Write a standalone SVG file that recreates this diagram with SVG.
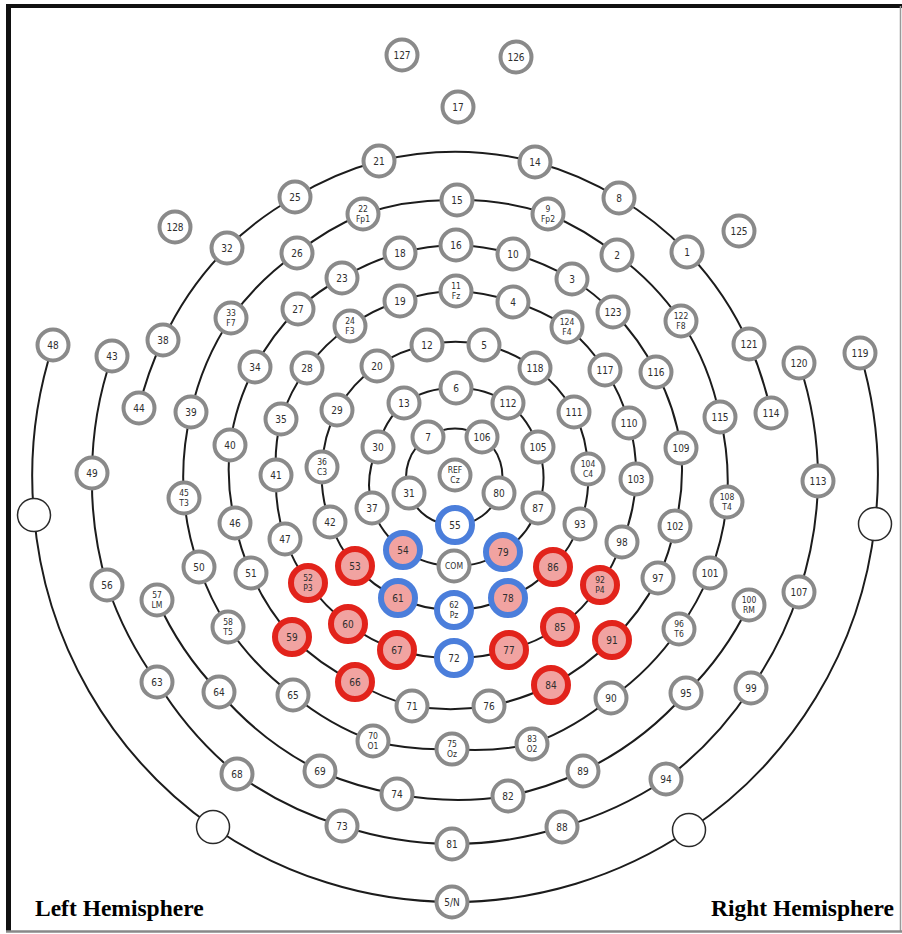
<svg xmlns="http://www.w3.org/2000/svg" width="902" height="934" viewBox="0 0 902 934">
<style>
.ring{fill:none;stroke:#1c1c1c;stroke-width:2}
.n circle{fill:#fff;stroke:#8a8a8a;stroke-width:4}
.r circle{fill:#f1a3a1;stroke:#e2231b;stroke-width:6}
.b circle{fill:#fff;stroke:#4b7edb;stroke-width:6}
.bp circle{fill:#f1a3a1;stroke:#4b7edb;stroke-width:6}
.w circle{fill:#fff;stroke:#2a2a2a;stroke-width:1.5}
text{font-family:"DejaVu Sans Condensed","Liberation Sans Narrow","Liberation Sans",sans-serif;font-size:10px;fill:#2e2e2e;text-anchor:middle}
text.s{font-size:8.5px}
text.h{font-family:"Liberation Serif","Times New Roman",serif;font-weight:bold;font-size:23.5px;fill:#000;text-anchor:start}
text.he{text-anchor:end}
</style>

<!-- frame -->
<g id="frame">
<line x1="8.5" y1="4" x2="8.5" y2="932" stroke="#111" stroke-width="5"/>
<line x1="6" y1="6" x2="902" y2="6" stroke="#111" stroke-width="4"/>
<line x1="900.5" y1="6" x2="900.5" y2="932" stroke="#999" stroke-width="1.5"/>
<line x1="6" y1="931.5" x2="902" y2="931.5" stroke="#888" stroke-width="2.5"/>
</g>

<!-- concentric electrode chains -->
<g id="connectors">
<path class="ring" d="M428,437 A47,47 0 0 1 482,437 A47,47 0 0 1 499,493 A47,47 0 0 1 455,525 A47,47 0 0 1 409,493 A47,47 0 0 1 428,437 Z"/>
<path class="ring" d="M456,388 A89,89 0 0 1 508,403 A89,89 0 0 1 538,447 A89,89 0 0 1 538,508 A89,89 0 0 1 503,552 A89,89 0 0 1 454,566 A89,89 0 0 1 403,550 A89,89 0 0 1 372,508 A89,89 0 0 1 378,447 A89,89 0 0 1 404,403 A89,89 0 0 1 456,388 Z"/>
<path class="ring" d="M427,345 A133,133 0 0 1 484,345 A133,133 0 0 1 535,368 A133,133 0 0 1 574,412 A133,133 0 0 1 588,469 A133,133 0 0 1 580,524 A133,133 0 0 1 553,567 A133,133 0 0 1 508,598 A133,133 0 0 1 454,610 A133,133 0 0 1 398,598 A133,133 0 0 1 355,566 A133,133 0 0 1 330,522 A133,133 0 0 1 322,467 A133,133 0 0 1 337,410 A133,133 0 0 1 377,366 A133,133 0 0 1 427,345 Z"/>
<path class="ring" d="M456,291 A182,182 0 0 1 513,302 A182,182 0 0 1 567,327 A182,182 0 0 1 605,370 A182,182 0 0 1 629,423 A182,182 0 0 1 636,479 A182,182 0 0 1 622,542 A182,182 0 0 1 600,585 A182,182 0 0 1 560,627 A182,182 0 0 1 509,650 A182,182 0 0 1 454,658 A182,182 0 0 1 397,650 A182,182 0 0 1 348,624 A182,182 0 0 1 308,583 A182,182 0 0 1 285,539 A182,182 0 0 1 276,475 A182,182 0 0 1 281,419 A182,182 0 0 1 307,368 A182,182 0 0 1 350,326 A182,182 0 0 1 400,301 A182,182 0 0 1 456,291 Z"/>
<path class="ring" d="M456,245 A229,229 0 0 1 513,254 A229,229 0 0 1 572,279 A229,229 0 0 1 613,312 A229,229 0 0 1 656,372 A229,229 0 0 1 681,448 A229,229 0 0 1 675,526 A229,229 0 0 1 658,578 A229,229 0 0 1 612,640 A229,229 0 0 1 551,685 A229,229 0 0 1 489,706 A229,229 0 0 1 412,706 A229,229 0 0 1 355,682 A229,229 0 0 1 292,637 A229,229 0 0 1 251,573 A229,229 0 0 1 235,523 A229,229 0 0 1 230,445 A229,229 0 0 1 255,367 A229,229 0 0 1 298,309 A229,229 0 0 1 342,278 A229,229 0 0 1 400,253 A229,229 0 0 1 456,245 Z"/>
<path class="ring" d="M457,200 A274,274 0 0 1 548,214 A274,274 0 0 1 617,255 A274,274 0 0 1 681,321 A274,274 0 0 1 720,417 A274,274 0 0 1 727,502 A274,274 0 0 1 710,573 A274,274 0 0 1 679,629 A274,274 0 0 1 611,698 A274,274 0 0 1 532,744 A274,274 0 0 1 452,749 A274,274 0 0 1 373,741 A274,274 0 0 1 293,695 A274,274 0 0 1 228,627 A274,274 0 0 1 199,567 A274,274 0 0 1 184,498 A274,274 0 0 1 191,412 A274,274 0 0 1 231,318 A274,274 0 0 1 297,253 A274,274 0 0 1 363,214 A274,274 0 0 1 457,200 Z"/>
<path class="ring" d="M139,408 A323,323 0 0 1 163,340 A323,323 0 0 1 227,248 A323,323 0 0 1 295,197 A323,323 0 0 1 379,161 A323,323 0 0 1 535,162 A323,323 0 0 1 619,198 A323,323 0 0 1 687,252 A323,323 0 0 1 749,344 A323,323 0 0 1 771,413"/>
<path class="ring" d="M157,600 A321,321 0 0 0 219,692 A321,321 0 0 0 320,771 A321,321 0 0 0 397,794 A321,321 0 0 0 508,796 A321,321 0 0 0 583,771 A321,321 0 0 0 686,693 A321,321 0 0 0 749,605"/>
<path class="ring" d="M112,356 A365,365 0 0 0 92,473 A365,365 0 0 0 107,585 A365,365 0 0 0 157,682 A365,365 0 0 0 237,774 A365,365 0 0 0 342,826 A365,365 0 0 0 452,844 A365,365 0 0 0 562,827 A365,365 0 0 0 666,779 A365,365 0 0 0 751,688 A365,365 0 0 0 799,592 A365,365 0 0 0 818,481 A365,365 0 0 0 799,363"/>
<path class="ring" d="M53,345 A424,424 0 0 0 34,515 A424,424 0 0 0 213,827 A424,424 0 0 0 452,902 A424,424 0 0 0 689,830 A424,424 0 0 0 875,524 A424,424 0 0 0 860,353"/>
</g>

<g id="nodes">
<g id="e127" class="n"><circle cx="402" cy="55" r="15.5"/><text x="402" y="58.5">127</text></g>
<g id="e126" class="n"><circle cx="516" cy="57" r="15.5"/><text x="516" y="60.5">126</text></g>
<g id="e17" class="n"><circle cx="458" cy="107" r="15.5"/><text x="458" y="110.5">17</text></g>
<g id="e21" class="n"><circle cx="379" cy="161" r="15.5"/><text x="379" y="164.5">21</text></g>
<g id="e14" class="n"><circle cx="535" cy="162" r="15.5"/><text x="535" y="165.5">14</text></g>
<g id="e25" class="n"><circle cx="295" cy="197" r="15.5"/><text x="295" y="200.5">25</text></g>
<g id="e8" class="n"><circle cx="619" cy="198" r="15.5"/><text x="619" y="201.5">8</text></g>
<g id="e22" class="n"><circle cx="363" cy="214" r="15.5"/><text class="s" x="363" y="212">22</text><text class="s" x="363" y="222">Fp1</text></g>
<g id="e15" class="n"><circle cx="457" cy="200" r="15.5"/><text x="457" y="203.5">15</text></g>
<g id="e9" class="n"><circle cx="548" cy="214" r="15.5"/><text class="s" x="548" y="212">9</text><text class="s" x="548" y="222">Fp2</text></g>
<g id="e128" class="n"><circle cx="175" cy="227" r="15.5"/><text x="175" y="230.5">128</text></g>
<g id="e125" class="n"><circle cx="739" cy="231" r="15.5"/><text x="739" y="234.5">125</text></g>
<g id="e32" class="n"><circle cx="227" cy="248" r="15.5"/><text x="227" y="251.5">32</text></g>
<g id="e26" class="n"><circle cx="297" cy="253" r="15.5"/><text x="297" y="256.5">26</text></g>
<g id="e18" class="n"><circle cx="400" cy="253" r="15.5"/><text x="400" y="256.5">18</text></g>
<g id="e16" class="n"><circle cx="456" cy="245" r="15.5"/><text x="456" y="248.5">16</text></g>
<g id="e10" class="n"><circle cx="513" cy="254" r="15.5"/><text x="513" y="257.5">10</text></g>
<g id="e2" class="n"><circle cx="617" cy="255" r="15.5"/><text x="617" y="258.5">2</text></g>
<g id="e1" class="n"><circle cx="687" cy="252" r="15.5"/><text x="687" y="255.5">1</text></g>
<g id="e23" class="n"><circle cx="342" cy="278" r="15.5"/><text x="342" y="281.5">23</text></g>
<g id="e3" class="n"><circle cx="572" cy="279" r="15.5"/><text x="572" y="282.5">3</text></g>
<g id="e33" class="n"><circle cx="231" cy="318" r="15.5"/><text class="s" x="231" y="316">33</text><text class="s" x="231" y="326">F7</text></g>
<g id="e27" class="n"><circle cx="298" cy="309" r="15.5"/><text x="298" y="312.5">27</text></g>
<g id="e19" class="n"><circle cx="400" cy="301" r="15.5"/><text x="400" y="304.5">19</text></g>
<g id="e11" class="n"><circle cx="456" cy="291" r="15.5"/><text class="s" x="456" y="289">11</text><text class="s" x="456" y="299">Fz</text></g>
<g id="e4" class="n"><circle cx="513" cy="302" r="15.5"/><text x="513" y="305.5">4</text></g>
<g id="e124" class="n"><circle cx="567" cy="327" r="15.5"/><text class="s" x="567" y="325">124</text><text class="s" x="567" y="335">F4</text></g>
<g id="e123" class="n"><circle cx="613" cy="312" r="15.5"/><text x="613" y="315.5">123</text></g>
<g id="e122" class="n"><circle cx="681" cy="321" r="15.5"/><text class="s" x="681" y="319">122</text><text class="s" x="681" y="329">F8</text></g>
<g id="e38" class="n"><circle cx="163" cy="340" r="15.5"/><text x="163" y="343.5">38</text></g>
<g id="e24" class="n"><circle cx="350" cy="326" r="15.5"/><text class="s" x="350" y="324">24</text><text class="s" x="350" y="334">F3</text></g>
<g id="e48" class="n"><circle cx="53" cy="345" r="15.5"/><text x="53" y="348.5">48</text></g>
<g id="e43" class="n"><circle cx="112" cy="356" r="15.5"/><text x="112" y="359.5">43</text></g>
<g id="e34" class="n"><circle cx="255" cy="367" r="15.5"/><text x="255" y="370.5">34</text></g>
<g id="e28" class="n"><circle cx="307" cy="368" r="15.5"/><text x="307" y="371.5">28</text></g>
<g id="e12" class="n"><circle cx="427" cy="345" r="15.5"/><text x="427" y="348.5">12</text></g>
<g id="e5" class="n"><circle cx="484" cy="345" r="15.5"/><text x="484" y="348.5">5</text></g>
<g id="e20" class="n"><circle cx="377" cy="366" r="15.5"/><text x="377" y="369.5">20</text></g>
<g id="e118" class="n"><circle cx="535" cy="368" r="15.5"/><text x="535" y="371.5">118</text></g>
<g id="e117" class="n"><circle cx="605" cy="370" r="15.5"/><text x="605" y="373.5">117</text></g>
<g id="e116" class="n"><circle cx="656" cy="372" r="15.5"/><text x="656" y="375.5">116</text></g>
<g id="e121" class="n"><circle cx="749" cy="344" r="15.5"/><text x="749" y="347.5">121</text></g>
<g id="e120" class="n"><circle cx="799" cy="363" r="15.5"/><text x="799" y="366.5">120</text></g>
<g id="e119" class="n"><circle cx="860" cy="353" r="15.5"/><text x="860" y="356.5">119</text></g>
<g id="e44" class="n"><circle cx="139" cy="408" r="15.5"/><text x="139" y="411.5">44</text></g>
<g id="e39" class="n"><circle cx="191" cy="412" r="15.5"/><text x="191" y="415.5">39</text></g>
<g id="e35" class="n"><circle cx="281" cy="419" r="15.5"/><text x="281" y="422.5">35</text></g>
<g id="e29" class="n"><circle cx="337" cy="410" r="15.5"/><text x="337" y="413.5">29</text></g>
<g id="e13" class="n"><circle cx="404" cy="403" r="15.5"/><text x="404" y="406.5">13</text></g>
<g id="e6" class="n"><circle cx="456" cy="388" r="15.5"/><text x="456" y="391.5">6</text></g>
<g id="e112" class="n"><circle cx="508" cy="403" r="15.5"/><text x="508" y="406.5">112</text></g>
<g id="e111" class="n"><circle cx="574" cy="412" r="15.5"/><text x="574" y="415.5">111</text></g>
<g id="e110" class="n"><circle cx="629" cy="423" r="15.5"/><text x="629" y="426.5">110</text></g>
<g id="e115" class="n"><circle cx="720" cy="417" r="15.5"/><text x="720" y="420.5">115</text></g>
<g id="e114" class="n"><circle cx="771" cy="413" r="15.5"/><text x="771" y="416.5">114</text></g>
<g id="e40" class="n"><circle cx="230" cy="445" r="15.5"/><text x="230" y="448.5">40</text></g>
<g id="e30" class="n"><circle cx="378" cy="447" r="15.5"/><text x="378" y="450.5">30</text></g>
<g id="e7" class="n"><circle cx="428" cy="437" r="15.5"/><text x="428" y="440.5">7</text></g>
<g id="e106" class="n"><circle cx="482" cy="437" r="15.5"/><text x="482" y="440.5">106</text></g>
<g id="e105" class="n"><circle cx="538" cy="447" r="15.5"/><text x="538" y="450.5">105</text></g>
<g id="e109" class="n"><circle cx="681" cy="448" r="15.5"/><text x="681" y="451.5">109</text></g>
<g id="e49" class="n"><circle cx="92" cy="473" r="15.5"/><text x="92" y="476.5">49</text></g>
<g id="e41" class="n"><circle cx="276" cy="475" r="15.5"/><text x="276" y="478.5">41</text></g>
<g id="e36" class="n"><circle cx="322" cy="467" r="15.5"/><text class="s" x="322" y="465">36</text><text class="s" x="322" y="475">C3</text></g>
<g id="eREF" class="n"><circle cx="455" cy="475" r="15.5"/><text class="s" x="455" y="473">REF</text><text class="s" x="455" y="483">Cz</text></g>
<g id="e104" class="n"><circle cx="588" cy="469" r="15.5"/><text class="s" x="588" y="467">104</text><text class="s" x="588" y="477">C4</text></g>
<g id="e103" class="n"><circle cx="636" cy="479" r="15.5"/><text x="636" y="482.5">103</text></g>
<g id="e113" class="n"><circle cx="818" cy="481" r="15.5"/><text x="818" y="484.5">113</text></g>
<g id="e45" class="n"><circle cx="184" cy="498" r="15.5"/><text class="s" x="184" y="496">45</text><text class="s" x="184" y="506">T3</text></g>
<g id="e31" class="n"><circle cx="409" cy="493" r="15.5"/><text x="409" y="496.5">31</text></g>
<g id="e80" class="n"><circle cx="499" cy="493" r="15.5"/><text x="499" y="496.5">80</text></g>
<g id="e108" class="n"><circle cx="727" cy="502" r="15.5"/><text class="s" x="727" y="500">108</text><text class="s" x="727" y="510">T4</text></g>
<g id="e46" class="n"><circle cx="235" cy="523" r="15.5"/><text x="235" y="526.5">46</text></g>
<g id="e37" class="n"><circle cx="372" cy="508" r="15.5"/><text x="372" y="511.5">37</text></g>
<g id="e42" class="n"><circle cx="330" cy="522" r="15.5"/><text x="330" y="525.5">42</text></g>
<g id="e87" class="n"><circle cx="538" cy="508" r="15.5"/><text x="538" y="511.5">87</text></g>
<g id="e93" class="n"><circle cx="580" cy="524" r="15.5"/><text x="580" y="527.5">93</text></g>
<g id="e47" class="n"><circle cx="285" cy="539" r="15.5"/><text x="285" y="542.5">47</text></g>
<g id="e102" class="n"><circle cx="675" cy="526" r="15.5"/><text x="675" y="529.5">102</text></g>
<g id="e98" class="n"><circle cx="622" cy="542" r="15.5"/><text x="622" y="545.5">98</text></g>
<g id="e50" class="n"><circle cx="199" cy="567" r="15.5"/><text x="199" y="570.5">50</text></g>
<g id="e51" class="n"><circle cx="251" cy="573" r="15.5"/><text x="251" y="576.5">51</text></g>
<g id="eCOM" class="n"><circle cx="454" cy="566" r="15.5"/><text class="s" x="454" y="569">COM</text></g>
<g id="e97" class="n"><circle cx="658" cy="578" r="15.5"/><text x="658" y="581.5">97</text></g>
<g id="e101" class="n"><circle cx="710" cy="573" r="15.5"/><text x="710" y="576.5">101</text></g>
<g id="e56" class="n"><circle cx="107" cy="585" r="15.5"/><text x="107" y="588.5">56</text></g>
<g id="e57" class="n"><circle cx="157" cy="600" r="15.5"/><text class="s" x="157" y="598">57</text><text class="s" x="157" y="608">LM</text></g>
<g id="e100" class="n"><circle cx="749" cy="605" r="15.5"/><text class="s" x="749" y="603">100</text><text class="s" x="749" y="613">RM</text></g>
<g id="e107" class="n"><circle cx="799" cy="592" r="15.5"/><text x="799" y="595.5">107</text></g>
<g id="e58" class="n"><circle cx="228" cy="627" r="15.5"/><text class="s" x="228" y="625">58</text><text class="s" x="228" y="635">T5</text></g>
<g id="e96" class="n"><circle cx="679" cy="629" r="15.5"/><text class="s" x="679" y="627">96</text><text class="s" x="679" y="637">T6</text></g>
<g id="e63" class="n"><circle cx="157" cy="682" r="15.5"/><text x="157" y="685.5">63</text></g>
<g id="e64" class="n"><circle cx="219" cy="692" r="15.5"/><text x="219" y="695.5">64</text></g>
<g id="e65" class="n"><circle cx="293" cy="695" r="15.5"/><text x="293" y="698.5">65</text></g>
<g id="e71" class="n"><circle cx="412" cy="706" r="15.5"/><text x="412" y="709.5">71</text></g>
<g id="e76" class="n"><circle cx="489" cy="706" r="15.5"/><text x="489" y="709.5">76</text></g>
<g id="e90" class="n"><circle cx="611" cy="698" r="15.5"/><text x="611" y="701.5">90</text></g>
<g id="e95" class="n"><circle cx="686" cy="693" r="15.5"/><text x="686" y="696.5">95</text></g>
<g id="e99" class="n"><circle cx="751" cy="688" r="15.5"/><text x="751" y="691.5">99</text></g>
<g id="e70" class="n"><circle cx="373" cy="741" r="15.5"/><text class="s" x="373" y="739">70</text><text class="s" x="373" y="749">O1</text></g>
<g id="e75" class="n"><circle cx="452" cy="749" r="15.5"/><text class="s" x="452" y="747">75</text><text class="s" x="452" y="757">Oz</text></g>
<g id="e83" class="n"><circle cx="532" cy="744" r="15.5"/><text class="s" x="532" y="742">83</text><text class="s" x="532" y="752">O2</text></g>
<g id="e68" class="n"><circle cx="237" cy="774" r="15.5"/><text x="237" y="777.5">68</text></g>
<g id="e69" class="n"><circle cx="320" cy="771" r="15.5"/><text x="320" y="774.5">69</text></g>
<g id="e74" class="n"><circle cx="397" cy="794" r="15.5"/><text x="397" y="797.5">74</text></g>
<g id="e82" class="n"><circle cx="508" cy="796" r="15.5"/><text x="508" y="799.5">82</text></g>
<g id="e89" class="n"><circle cx="583" cy="771" r="15.5"/><text x="583" y="774.5">89</text></g>
<g id="e94" class="n"><circle cx="666" cy="779" r="15.5"/><text x="666" y="782.5">94</text></g>
<g id="e73" class="n"><circle cx="342" cy="826" r="15.5"/><text x="342" y="829.5">73</text></g>
<g id="e81" class="n"><circle cx="452" cy="844" r="15.5"/><text x="452" y="847.5">81</text></g>
<g id="e88" class="n"><circle cx="562" cy="827" r="15.5"/><text x="562" y="830.5">88</text></g>
<g id="e5N" class="n"><circle cx="452" cy="902" r="15.5"/><text x="452" y="905.5">5/N</text></g>

<g id="e53" class="r"><circle cx="355" cy="566" r="17"/><text x="355" y="569.5">53</text></g>
<g id="e86" class="r"><circle cx="553" cy="567" r="17"/><text x="553" y="570.5">86</text></g>
<g id="e52" class="r"><circle cx="308" cy="583" r="17"/><text class="s" x="308" y="581">52</text><text class="s" x="308" y="591">P3</text></g>
<g id="e92" class="r"><circle cx="600" cy="585" r="17"/><text class="s" x="600" y="583">92</text><text class="s" x="600" y="593">P4</text></g>
<g id="e60" class="r"><circle cx="348" cy="624" r="17"/><text x="348" y="627.5">60</text></g>
<g id="e85" class="r"><circle cx="560" cy="627" r="17"/><text x="560" y="630.5">85</text></g>
<g id="e59" class="r"><circle cx="292" cy="637" r="17"/><text x="292" y="640.5">59</text></g>
<g id="e91" class="r"><circle cx="612" cy="640" r="17"/><text x="612" y="643.5">91</text></g>
<g id="e67" class="r"><circle cx="397" cy="650" r="17"/><text x="397" y="653.5">67</text></g>
<g id="e77" class="r"><circle cx="509" cy="650" r="17"/><text x="509" y="653.5">77</text></g>
<g id="e66" class="r"><circle cx="355" cy="682" r="17"/><text x="355" y="685.5">66</text></g>
<g id="e84" class="r"><circle cx="551" cy="685" r="17"/><text x="551" y="688.5">84</text></g>

<g id="e55" class="b"><circle cx="455" cy="525" r="17"/><text x="455" y="528.5">55</text></g>
<g id="e62" class="b"><circle cx="454" cy="610" r="17"/><text class="s" x="454" y="608">62</text><text class="s" x="454" y="618">Pz</text></g>
<g id="e72" class="b"><circle cx="454" cy="658" r="17"/><text x="454" y="661.5">72</text></g>
<g id="e54" class="bp"><circle cx="403" cy="550" r="17"/><text x="403" y="553.5">54</text></g>
<g id="e79" class="bp"><circle cx="503" cy="552" r="17"/><text x="503" y="555.5">79</text></g>
<g id="e61" class="bp"><circle cx="398" cy="598" r="17"/><text x="398" y="601.5">61</text></g>
<g id="e78" class="bp"><circle cx="508" cy="598" r="17"/><text x="508" y="601.5">78</text></g>

<g id="mL" class="w"><circle cx="34" cy="515" r="16.5"/></g>
<g id="mLB" class="w"><circle cx="213" cy="827" r="16.5"/></g>
<g id="mRB" class="w"><circle cx="689" cy="830" r="16.5"/></g>
<g id="mR" class="w"><circle cx="875" cy="524" r="16.5"/></g>
</g>

<g id="captions">
<text class="h" x="35" y="916">Left Hemisphere</text>
<text class="h he" x="894" y="916">Right Hemisphere</text>
</g>
</svg>
